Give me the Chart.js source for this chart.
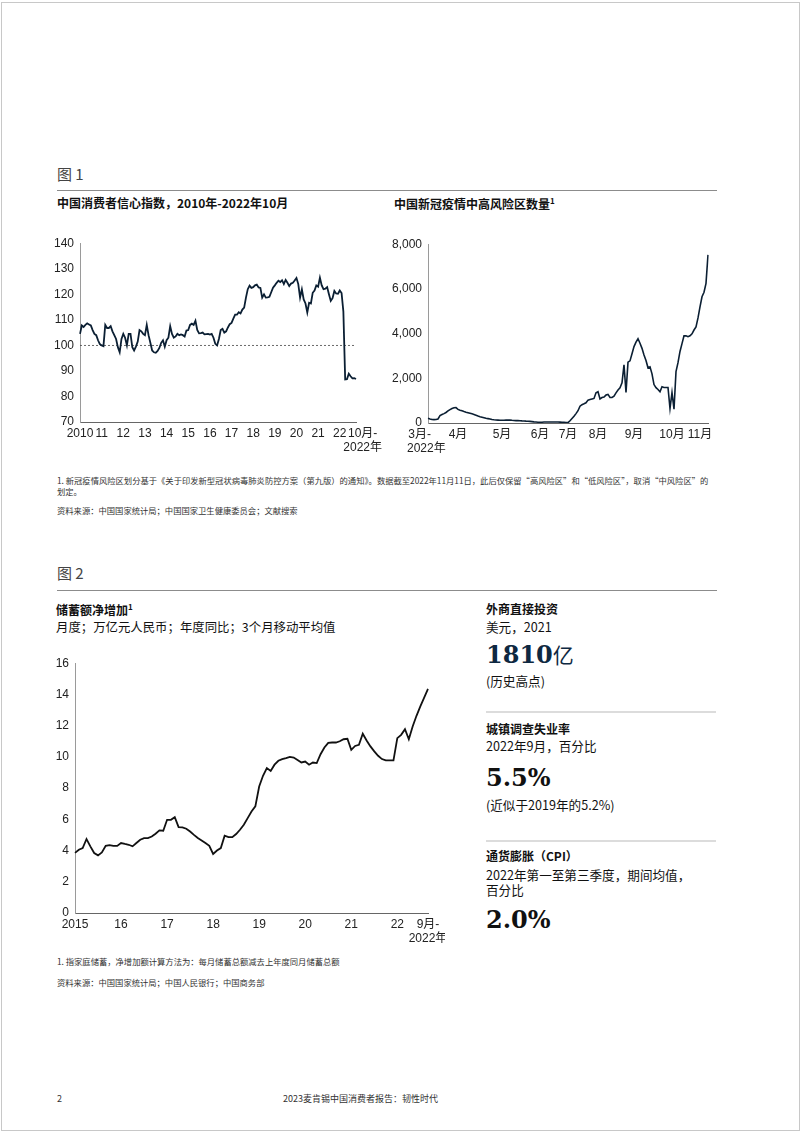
<!DOCTYPE html>
<html lang="zh">
<head>
<meta charset="utf-8">
<script src="https://cdn.jsdelivr.net/npm/chart.js@4.4.0/dist/chart.umd.min.js"></script>
<style>
body{margin:0;background:#fff;}
#page{position:relative;width:802px;height:1133px;overflow:hidden;font-family:"Noto Sans CJK SC","Liberation Sans",sans-serif;color:#111;}
#frame{position:absolute;left:1px;top:2px;width:799px;height:1129px;border:1px solid #c8c8c8;box-sizing:border-box;}
.t{position:absolute;white-space:nowrap;line-height:1;}
.b{font-weight:bold;}
.rule{position:absolute;height:1px;background:#8c8c8c;}
.rule2{position:absolute;height:2px;background:#dcdcdc;left:486px;width:230px;}
.big{font-family:"DejaVu Serif",serif;font-weight:bold;font-size:24px;}
.fn{font-size:8.3px;color:#333;}
.r{font-size:12.6px;}
canvas{position:absolute;}
</style>
</head>
<body>
<div id="page">
  <div id="frame"></div>
  <div class="t" style="left:57px;top:165.6px;font-size:15px;color:#444;">图 1</div>
  <div class="rule" style="left:57px;top:190px;width:660px;"></div>
  <div class="t b" style="left:57px;top:196.5px;font-size:12px;">中国消费者信心指数，2010年-2022年10月</div>
  <div class="t b" style="left:394px;top:197.2px;font-size:12px;">中国新冠疫情中高风险区数量<sup style="font-size:8px;">1</sup></div>

  <canvas id="c1" width="345" height="230" style="left:40px;top:230px;width:345px;height:230px;"></canvas>
  <canvas id="c2" width="345" height="230" style="left:375px;top:231px;width:345px;height:230px;"></canvas>

  <div class="t fn" style="left:57px;top:476px;">1. 新冠疫情风险区划分基于《关于印发新型冠状病毒肺炎防控方案（第九版）的通知》。数据截至2022年11月11日，此后仅保留“高风险区”和“低风险区”，取消“中风险区”的</div>
  <div class="t fn" style="left:57px;top:486.5px;">划定。</div>
  <div class="t fn" style="left:57px;top:505.5px;">资料来源：中国国家统计局；中国国家卫生健康委员会；文献搜索</div>

  <div class="t" style="left:57px;top:564.6px;font-size:15px;color:#444;">图 2</div>
  <div class="rule" style="left:57px;top:590px;width:660px;"></div>
  <div class="t b" style="left:56px;top:602.6px;font-size:12px;">储蓄额净增加<sup style="font-size:8px;">1</sup></div>
  <div class="t" style="left:56px;top:620.8px;font-size:12.4px;">月度；万亿元人民币；年度同比；3个月移动平均值</div>

  <canvas id="c3" width="410" height="301" style="left:35px;top:650px;width:410px;height:301px;"></canvas>

  <div class="t b" style="left:486px;top:602.6px;font-size:12px;">外商直接投资</div>
  <div class="t r" style="left:486px;top:620.6px;">美元，2021</div>
  <div class="t" style="left:486px;top:642.5px;"><span class="big" style="color:#0e2841;">1810</span><span style="font-size:21px;color:#0e2841;">亿</span></div>
  <div class="t r" style="left:486px;top:674.6px;">(历史高点)</div>
  <div class="rule2" style="top:711px;"></div>
  <div class="t b" style="left:486px;top:722.6px;font-size:12px;">城镇调查失业率</div>
  <div class="t r" style="left:486px;top:739.6px;">2022年9月，百分比</div>
  <div class="t big" style="left:486px;top:766px;">5.5%</div>
  <div class="t r" style="left:486px;top:798.9px;">(近似于2019年的5.2%)</div>
  <div class="rule2" style="top:840px;"></div>
  <div class="t b" style="left:486px;top:850px;font-size:12px;">通货膨胀（CPI）</div>
  <div class="t r" style="left:486px;top:869px;">2022年第一至第三季度，期间均值，</div>
  <div class="t r" style="left:486px;top:883.5px;">百分比</div>
  <div class="t big" style="left:486px;top:907.5px;">2.0%</div>

  <div class="t fn" style="left:57px;top:957px;">1. 指家庭储蓄，净增加额计算方法为：每月储蓄总额减去上年度同月储蓄总额</div>
  <div class="t fn" style="left:57px;top:977.6px;">资料来源：中国国家统计局；中国人民银行；中国商务部</div>

  <div class="t" style="left:57px;top:1094px;font-size:9px;color:#333;">2</div>
  <div class="t" style="left:283px;top:1094px;font-size:9px;color:#333;">2023麦肯锡中国消费者报告：韧性时代</div>
</div>

<script>
// 图1 左：中国消费者信心指数，月度 2010-01 ~ 2022-10
const confYears = ['2010', '11', '12', '13', '14', '15', '16', '17', '18', '19', '20', '21', '22'];
const confEnd = ['    10月-', '    2022年'];
const confRef = 100;
const confValues = [
    104.5, 107.8, 107.2, 108, 108.6, 108.2, 107.8, 106, 104.5, 104, 102, 100.5,
    100, 99.7, 108, 106.8, 106.8, 107.5, 105.5, 104, 102.5, 99.3, 97.3, 102.5,
    104.5, 103, 100, 104.5, 104.5, 99.3, 98, 99.5, 101.5, 106, 105.5, 104.5,
    104, 108, 104, 101, 98, 97.3, 97.1, 97.8, 99, 101, 102, 99.5,
    102, 103, 107.5, 104.5, 103, 103.5, 104.5, 104, 104.3, 104, 103.5, 105.8,
    106, 108, 108.5, 108, 109.6, 106, 104.7, 104.8, 105, 104.3, 104.4, 104.5,
    104.2, 104.5, 103, 100.6, 100, 102.5, 106, 106.5, 105, 105.5, 107, 108.3,
    108.8, 110.5, 112, 112, 113, 112.5, 114, 114.8, 118.7, 122, 123.4, 122.5,
    122.8, 123.5, 123.8, 122.7, 122.5, 118.7, 120, 118.7, 118.8, 119, 120.8, 122.6,
    123.5, 124.5, 125.3, 124.8, 125.5, 124, 125.6, 124.5, 123.2, 124.2, 124.5, 125.4,
    126.4, 124, 118.7, 121.9, 118, 116.4, 112.9, 116.7, 116.4, 120.6, 121.5, 123.5,
    123, 126.5, 123.5, 122, 122.2, 122.8, 120, 117.4, 118.5, 121.3, 120.3, 120.2,
    121.5, 120.5, 113.2, 86.7, 86.8, 88.9, 87.9, 87.1, 87.2, 86.8
];

// 图1 右：中高风险区数量，2022年3月 ~ 11月11日
const riskMonths = [['3月-     ', '2022年 '], '4月', '5月', '6月', '7月', '8月', '9月', '10月', '11月'];
const riskMonthAt = [0, 15, 37, 56, 70, 85, 103, 122, 136];
const riskValues = [
    208, 180, 160, 150, 160, 178, 330, 380, 420, 470,
    540, 600, 650, 680, 690, 610, 570, 545, 510, 480,
    460, 435, 410, 385, 350, 310, 280, 260, 235, 210,
    195, 180, 160, 145, 135, 128, 122, 120, 125, 130,
    133, 130, 120, 112, 108, 105, 102, 95, 90, 82,
    78, 72, 60, 50, 42, 35, 30, 35, 42, 45,
    48, 45, 44, 45, 45, 42, 40, 35, 28, 20,
    15, 100, 200, 300, 420, 549, 750, 820, 860, 905,
    1024, 1050, 1075, 1100, 1350, 1400, 1080, 1140, 1165, 1250,
    1280, 1143, 1143, 1200, 1350, 1480, 1570, 1800, 2600, 1365,
    2720, 2780, 3100, 3420, 3620, 3770, 3570, 3340, 3040, 2800,
    2470, 2510, 2200, 1720, 1580, 1500, 1400, 1620, 1590, 1588,
    1588, 650, 1360, 620, 2300, 2700, 3200, 3550, 3900, 3900,
    3860, 3900, 3990, 4160, 4300, 4700, 5200, 5650, 5850, 6250,
    7524
];

// 图2：储蓄额净增加，万亿元，2015-01 ~ 2022-09
const saveYears = ['2015', '16', '17', '18', '19', '20', '21', '22'];
const saveEnd = ['9月-', '2022年'];
const saveValues = [
    3.85, 4.05, 4.16, 4.74, 4.27, 3.84, 3.69, 3.88, 4.3, 4.35, 4.3, 4.3,
    4.48, 4.42, 4.37, 4.27, 4.48, 4.69, 4.8, 4.8, 4.9, 5.08, 5.29, 5.27,
    5.97, 5.97, 6.14, 5.5, 5.48, 5.4, 5.22, 5.0, 4.8, 4.65, 4.48, 4.3,
    3.78, 4.0, 4.16, 4.95, 4.86, 4.86, 5.06, 5.33, 5.65, 6.08, 6.5, 6.83,
    8.1, 8.79, 9.28, 9.1, 9.5, 9.75, 9.86, 9.92, 10.0, 9.96, 9.8, 9.64,
    9.7, 9.5, 9.64, 9.6, 10.17, 10.6, 10.9, 10.92, 10.92, 11.0, 11.13, 11.16,
    10.45, 10.7, 10.77, 11.48, 11.05, 10.67, 10.35, 10.07, 9.86, 9.77, 9.77, 9.77,
    11.2, 11.41, 11.77, 11.13, 11.95, 12.63, 13.23, 13.8, 14.36
];

Chart.defaults.font.family = '"Liberation Sans", "Noto Sans CJK SC", sans-serif';
Chart.defaults.font.size = 12;
Chart.defaults.color = '#222';

const lineColor = '#0b1f33';

// 每年1月放年份标签，最后一个点放结束标签
function yearLabels(n, years, endLabel) {
    let labels = [];
    for (let i = 0; i < n; i++) {
        if (i == n - 1) labels.push(endLabel);
        else if (i % 12 == 0) labels.push(years[i / 12]);
        else labels.push('');
    }
    return labels;
}

function baseOptions(yMin, yMax, yStep, yWidth, xHeight, pad, fmt) {
    return {
        responsive: false,
        animation: false,
        layout: { padding: pad },
        plugins: { legend: { display: false }, tooltip: { enabled: false } },
        elements: { point: { radius: 0 } },
        scales: {
            x: {
                grid: { display: false, drawTicks: false },
                border: { color: '#666', width: 1 },
                ticks: { autoSkip: false, maxRotation: 0, padding: 4, callback: function (v) { return this.getLabelForValue(v); } },
                afterFit: function (s) {
                    s.height = xHeight;
                    // 端点标签允许伸出绘图区
                    s.paddingLeft = 0;
                    s.paddingRight = 0;
                }
            },
            y: {
                min: yMin, max: yMax,
                grid: { display: false, drawTicks: false },
                border: { color: '#9a9a9a', width: 1 },
                ticks: { stepSize: yStep, padding: 6, callback: fmt },
                afterFit: function (s) { s.width = yWidth; }
            }
        }
    };
}

const refLinePlugin = {
    id: 'refLine',
    beforeDatasetsDraw(chart) {
        const ctx = chart.ctx;
        const y = chart.scales.y.getPixelForValue(confRef);
        ctx.save();
        ctx.setLineDash([2, 2]);
        ctx.strokeStyle = '#444';
        ctx.lineWidth = 0.8;
        ctx.beginPath();
        ctx.moveTo(chart.chartArea.left, y);
        ctx.lineTo(chart.chartArea.right, y);
        ctx.stroke();
        ctx.restore();
    }
};

new Chart(document.getElementById('c1'), {
    type: 'line',
    data: {
        labels: yearLabels(confValues.length, confYears, confEnd),
        datasets: [{ data: confValues, borderColor: lineColor, borderWidth: 1.8, tension: 0 }]
    },
    options: baseOptions(70, 140, 10, 40, 38, { top: 7, right: 29, left: 0, bottom: 0 }, v => v),
    plugins: [refLinePlugin]
});

let riskLabels = riskValues.map(() => '');
riskMonthAt.forEach((at, i) => { riskLabels[at] = riskMonths[i]; });

new Chart(document.getElementById('c2'), {
    type: 'line',
    data: {
        labels: riskLabels,
        datasets: [{ data: riskValues, borderColor: lineColor, borderWidth: 1.6, tension: 0 }]
    },
    options: baseOptions(0, 8000, 2000, 53, 38, { top: 8, right: 12, left: 0, bottom: 0 }, v => v.toLocaleString('en-US'))
});

new Chart(document.getElementById('c3'), {
    type: 'line',
    data: {
        labels: yearLabels(saveValues.length, saveYears, saveEnd),
        datasets: [{ data: saveValues, borderColor: '#111', borderWidth: 1.8, tension: 0 }]
    },
    options: baseOptions(0, 16, 2, 40, 38, { top: 8, right: 17, left: 0, bottom: 0 }, v => v)
});
</script>
</body>
</html>
